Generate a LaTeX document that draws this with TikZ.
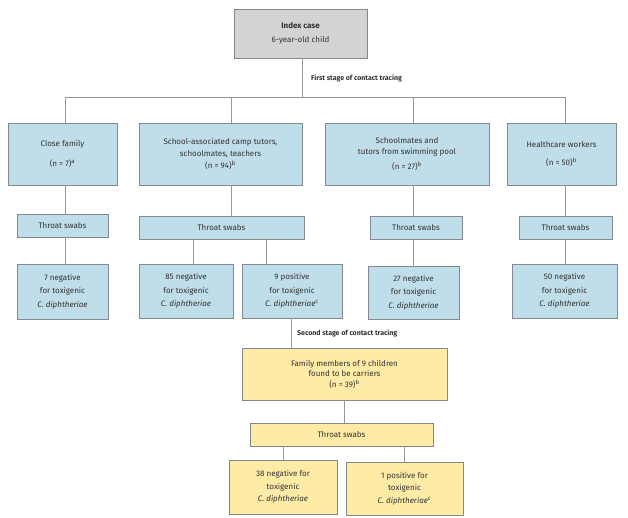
\documentclass[tikz,border=0pt]{standalone}
\usepackage{fontspec}
\setmainfont{Fira Sans}
\definecolor{bluefill}{RGB}{192,222,233}
\definecolor{greyfill}{RGB}{211,211,211}
\definecolor{yellowfill}{RGB}{254,235,166}
\definecolor{boxline}{RGB}{128,138,142}
\definecolor{linegrey}{RGB}{150,150,150}
\definecolor{txt}{RGB}{50,50,50}
\begin{document}
\begin{tikzpicture}[x=1pt,y=-1pt,
    box/.style={draw=boxline,line width=0.9pt,align=center,inner sep=0pt,text=txt,
        font=\fontsize{8}{13.5}\selectfont},
    bluebox/.style={box,fill=bluefill},
    greybox/.style={box,fill=greyfill},
    yellowbox/.style={box,fill=yellowfill},
    lbl/.style={anchor=west,inner sep=0pt,text=txt,font=\fontsize{7}{8}\selectfont\bfseries},
    link/.style={draw=linegrey,line width=0.9pt}]
    \useasboundingbox (0,0) rectangle (628,517);
    % index case and first stage
    \node[greybox,minimum width=133,minimum height=49] (idx) at (300.5,33.5) {\textbf{Index case}\\6-year-old child};
    \node[lbl] (st1) at (311,78) {First stage of contact tracing};
    \coordinate (top) at (302,97);
    \coordinate (d1) at (65,97);
    \coordinate (d2) at (231,97);
    \coordinate (d3) at (413,97);
    \coordinate (d4) at (565,97);
    \node[bluebox,minimum width=109,minimum height=62] (cf) at (62.5,154) {Close family\\[7pt](n = 7)\textsuperscript{a}};
    \node[bluebox,minimum width=163,minimum height=62,font=\fontsize{8}{12}\selectfont] (sch) at (220.5,154) {School-associated camp tutors,\\schoolmates, teachers\\(n = 94)\textsuperscript{b}};
    \node[bluebox,minimum width=164,minimum height=62,font=\fontsize{8}{11}\selectfont] (pool) at (407,154) {Schoolmates and\\tutors from swimming pool\\[4pt](n = 27)\textsuperscript{b}};
    \node[bluebox,minimum width=109,minimum height=62] (hcw) at (561.5,154) {Healthcare workers\\[5pt](n = 50)\textsuperscript{b}};
    % throat swabs
    \node[bluebox,minimum width=91,minimum height=23] (sw1) at (62.5,225.5) {Throat swabs};
    \node[bluebox,minimum width=165,minimum height=23] (sw2) at (221.5,227.5) {Throat swabs};
    \node[bluebox,minimum width=92,minimum height=23] (sw3) at (416,227.5) {Throat swabs};
    \node[bluebox,minimum width=93,minimum height=23] (sw4) at (565.5,227.5) {Throat swabs};
    % results
    \node[bluebox,minimum width=91,minimum height=55] (r1) at (62.5,291.5) {7 negative\\for toxigenic\\\textit{C. diphtheriae}};
    \node[bluebox,minimum width=94,minimum height=54] (r2n) at (186,291) {85 negative\\for toxigenic\\\textit{C. diphtheriae}};
    \node[bluebox,minimum width=100,minimum height=54] (r2p) at (292,291) {9 positive\\for toxigenic\\\textit{C. diphtheriae}\textsuperscript{c}};
    \node[bluebox,minimum width=91,minimum height=53] (r3) at (413.5,292.5) {27 negative\\for toxigenic\\\textit{C. diphtheriae}};
    \node[bluebox,minimum width=105,minimum height=54] (r4) at (564.5,291) {50 negative\\for toxigenic\\\textit{C. diphtheriae}};
    \coordinate (s2l) at (193,0);
    \coordinate (s2r) at (266,0);
    % second stage
    \coordinate (pc) at (291,0);
    \node[lbl] (st2) at (297,333) {Second stage of contact tracing};
    \node[yellowbox,minimum width=205,minimum height=52,font=\fontsize{8}{10.5}\selectfont] (fam) at (344.5,374) {Family members of 9 children\\found to be carriers\\(n = 39)\textsuperscript{b}};
    \node[yellowbox,minimum width=183,minimum height=23] (sw5) at (341.5,434.5) {Throat swabs};
    \node[yellowbox,minimum width=108,minimum height=54,font=\fontsize{8}{12.5}\selectfont] (y1) at (283,487) {38 negative for\\toxigenic\\\textit{C. diphtheriae}};
    \node[yellowbox,minimum width=117,minimum height=53,font=\fontsize{8}{12.5}\selectfont] (y2) at (404.5,488.5) {1 positive for\\toxigenic\\\textit{C. diphtheriae}\textsuperscript{c}};
    % connectors
    \draw[link] (idx.south -| top) -- (top);
    \draw[link] (d1) -- (d4);
    \draw[link] (d1) -- (d1 |- cf.north);
    \draw[link] (d2) -- (d2 |- sch.north);
    \draw[link] (d3) -- (d3 |- pool.north);
    \draw[link] (d4) -- (d4 |- hcw.north);
    \draw[link] (cf.south -| d1) -- (sw1.north -| d1);
    \draw[link] (sch.south -| d2) -- (sw2.north -| d2);
    \draw[link] (pool.south -| d3) -- (sw3.north -| d3);
    \draw[link] (hcw.south -| d4) -- (sw4.north -| d4);
    \draw[link] (sw1.south -| d1) -- (r1.north -| d1);
    \draw[link] (sw2.south -| s2l) -- (r2n.north -| s2l);
    \draw[link] (sw2.south -| s2r) -- (r2p.north -| s2r);
    \draw[link] (sw3.south -| d3) -- (r3.north -| d3);
    \draw[link] (sw4.south -| d4) -- (r4.north -| d4);
    \draw[link] (r2p.south -| pc) -- (fam.north -| pc);
    \draw[link] (fam.south) -- (sw5.north -| fam.south);
    \draw[link] (sw5.south -| y1.north) -- (y1.north);
    \draw[link] (sw5.south -| y2.north) -- (y2.north);
\end{tikzpicture}
\end{document}
